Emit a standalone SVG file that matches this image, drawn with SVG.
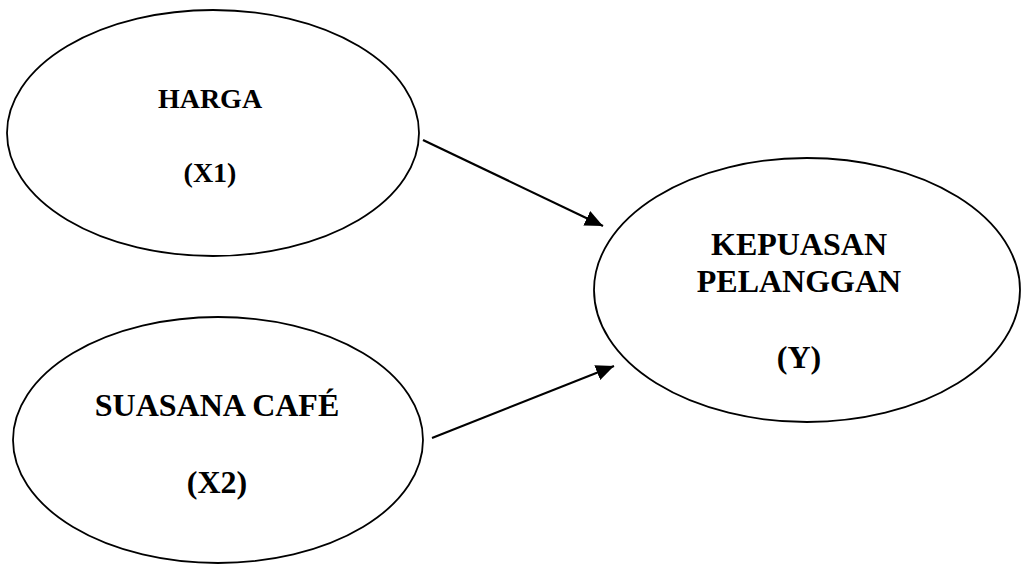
<svg xmlns="http://www.w3.org/2000/svg" width="1022" height="565" viewBox="0 0 1022 565">
<style>
.node{fill:#fff;stroke:#000;stroke-width:1.8}
.t{font-family:"Liberation Serif","Times New Roman",serif;font-weight:bold;font-size:32px;fill:#000;text-anchor:middle}
.s{font-size:28px}
.conn{stroke:#000;stroke-width:2.2;fill:none}
</style>
<defs>
<marker id="ah" markerUnits="userSpaceOnUse" markerWidth="20" markerHeight="16" refX="18" refY="8" orient="auto">
<path d="M0,0 L18,8 L0,16 Z" fill="#000"/>
</marker>
</defs>
<rect width="1022" height="565" fill="#fff"/>
<g id="harga">
<ellipse class="node" cx="213" cy="133" rx="206" ry="123"/>
<text class="t s" x="210" y="108">HARGA</text>
<text class="t s" x="210" y="182">(X1)</text>
</g>
<g id="suasana">
<ellipse class="node" cx="218" cy="440" rx="205" ry="123"/>
<text class="t" x="217" y="416">SUASANA CAFÉ</text>
<text class="t" x="217" y="493">(X2)</text>
</g>
<g id="kepuasan">
<ellipse class="node" cx="807" cy="290" rx="213" ry="132"/>
<text class="t" x="799" y="255">KEPUASAN</text>
<text class="t" x="799" y="292">PELANGGAN</text>
<text class="t" x="799" y="368">(Y)</text>
</g>
<g id="connectors">
<line class="conn" x1="423" y1="140" x2="603" y2="226" marker-end="url(#ah)"/>
<line class="conn" x1="432" y1="438" x2="614" y2="366" marker-end="url(#ah)"/>
</g>
</svg>
